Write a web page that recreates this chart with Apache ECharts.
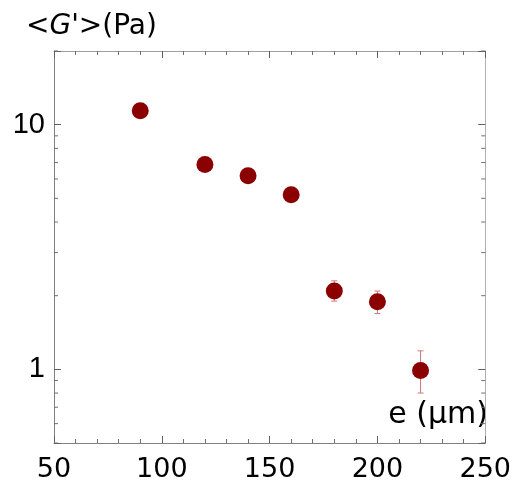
<!DOCTYPE html>
<html>
<head>
<meta charset="utf-8">
<script src="https://cdn.jsdelivr.net/npm/echarts@6/dist/echarts.min.js"></script>
<style>html,body{margin:0;padding:0;background:#fff;}#c{width:514px;height:486px;}</style>
</head>
<body>
<div id="c"></div>
<script>
// Data
var thickness = [90, 120, 140, 160, 180, 200, 220];          // e (µm)
var gPrime    = [11.4, 6.87, 6.18, 5.17, 2.09, 1.89, 0.99];   // <G'> (Pa)
var errLow    = [11.4, 6.87, 6.18, 5.17, 1.90, 1.69, 0.80];
var errHigh   = [11.4, 6.87, 6.18, 5.17, 2.30, 2.09, 1.19];
var xTicks = [50, 100, 150, 200, 250];
var yTickLabels = [1, 10];
var yMinorTicks = [0.5, 0.6, 0.7, 0.8, 0.9, 2, 3, 4, 5, 6, 7, 8, 9, 20];

var FONT = 'Liberation Sans, Arial, sans-serif';
var WFONT = 'DejaVu Sans, sans-serif';
var chart = echarts.init(document.getElementById('c'));

var pts = thickness.map(function (x, i) { return [x, gPrime[i]]; });
var errs = thickness.map(function (x, i) { return [x, errLow[i], errHigh[i]]; });
var minorData = yMinorTicks.map(function (v) { return [v]; });

var xMin = 50, xMax = 250, yMin = 0.5, yMax = 20;

function xAxisCommon(pos, showLabel) {
  return {
    type: 'value', position: pos, min: xMin, max: xMax, interval: 50,
    axisLine: { show: true, onZero: false, lineStyle: { color: pos === 'top' ? '#a0a0a0' : '#808080', width: 1 } },
    axisTick: { show: true, inside: true, length: 7, lineStyle: { color: '#606060' } },
    minorTick: { show: true, splitNumber: 5, length: 4, lineStyle: { color: '#707070' } },
    splitLine: { show: false },
    axisLabel: { show: showLabel, fontSize: 27, color: '#000', fontFamily: WFONT, margin: 13,
      formatter: function (v) { return xTicks.indexOf(v) >= 0 ? String(v) : ''; } }
  };
}
function yAxisCommon(pos, showLabel) {
  return {
    type: 'log', logBase: 10, position: pos, min: yMin, max: yMax,
    axisLine: { show: true, onZero: false, lineStyle: { color: pos === 'right' ? '#b0b0b0' : '#808080', width: 1 } },
    axisTick: { show: true, inside: true, length: 7, lineStyle: { color: '#606060' } },
    splitLine: { show: false },
    axisLabel: { show: showLabel, fontSize: 29, color: '#000', fontFamily: FONT, margin: 9,
      showMinLabel: true, showMaxLabel: true,
      formatter: function (v) {
        for (var i = 0; i < yTickLabels.length; i++) {
          if (Math.abs(v - yTickLabels[i]) < 1e-6) return String(yTickLabels[i]);
        }
        return '';
      } }
  };
}

var option = {
  animation: false,
  backgroundColor: '#fff',
  grid: { left: 54, right: 27, top: 51, bottom: 43, containLabel: false },
  title: {
    text: "<{i|G'}>(Pa)", left: 26, top: 13, padding: 0,
    textStyle: { fontSize: 28, color: '#000', fontFamily: WFONT, fontWeight: 'normal',
      rich: { i: { fontSize: 28, fontStyle: 'italic', fontFamily: WFONT, color: '#000' } } }
  },
  graphic: [{
    type: 'text', right: 26, top: 400,
    style: { text: 'e (\u00b5m)', font: '30px ' + WFONT, fill: '#000', textAlign: 'right' }
  }],
  xAxis: [xAxisCommon('bottom', true), xAxisCommon('top', false)],
  yAxis: [yAxisCommon('left', true), yAxisCommon('right', false)],
  series: [
    {
      type: 'custom', xAxisIndex: 0, yAxisIndex: 0, z: 1, clip: false,
      data: minorData,
      renderItem: function (params, api) {
        var v = api.value(0);
        var l = api.coord([xMin, v]);
        var r = api.coord([xMax, v]);
        return { type: 'group', children: [
          { type: 'line', shape: { x1: l[0], y1: l[1], x2: l[0] + 4, y2: l[1] }, style: { stroke: '#707070', lineWidth: 1 } },
          { type: 'line', shape: { x1: r[0], y1: r[1], x2: r[0] - 4, y2: r[1] }, style: { stroke: '#707070', lineWidth: 1 } }
        ] };
      },
      encode: { y: 0 }
    },
    {
      type: 'custom', xAxisIndex: 0, yAxisIndex: 0, z: 2,
      data: errs,
      renderItem: function (params, api) {
        var x = api.value(0);
        var lo = api.coord([x, api.value(1)]);
        var hi = api.coord([x, api.value(2)]);
        var c = 3;
        var st = { stroke: '#d27676', lineWidth: 1 };
        return { type: 'group', children: [
          { type: 'line', shape: { x1: lo[0], y1: lo[1], x2: hi[0], y2: hi[1] }, style: st },
          { type: 'line', shape: { x1: lo[0] - c, y1: lo[1], x2: lo[0] + c, y2: lo[1] }, style: st },
          { type: 'line', shape: { x1: hi[0] - c, y1: hi[1], x2: hi[0] + c, y2: hi[1] }, style: st }
        ] };
      },
      encode: { x: 0, y: [1, 2] }
    },
    {
      type: 'scatter', xAxisIndex: 0, yAxisIndex: 0, z: 3,
      data: pts, symbol: 'circle', symbolSize: 17,
      itemStyle: { color: '#8b0000', opacity: 1 }
    }
  ]
};
chart.setOption(option);
</script>
</body>
</html>
